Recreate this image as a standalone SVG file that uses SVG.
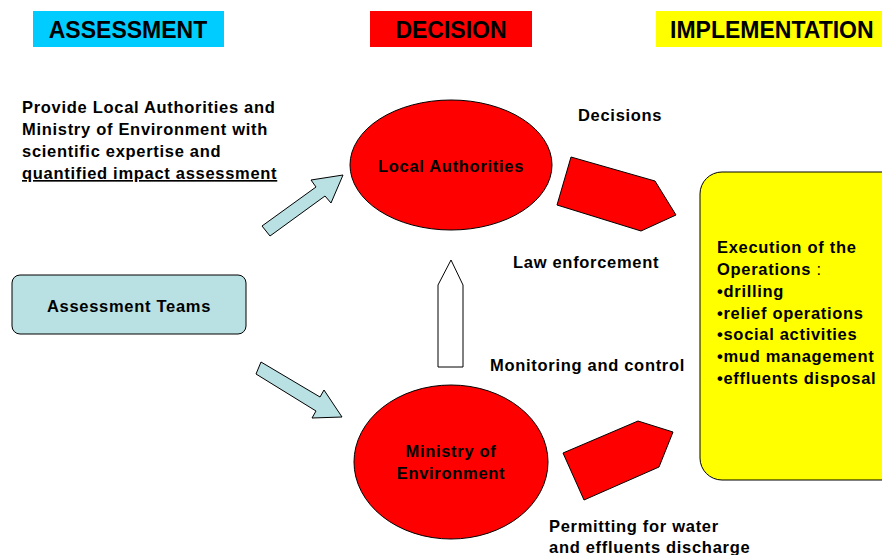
<svg xmlns="http://www.w3.org/2000/svg" width="882" height="555" viewBox="0 0 882 555">
<style>
text{font-family:"Liberation Sans",Arial,sans-serif;font-weight:bold;fill:#000}
.hd{font-size:23px}
.t{font-size:16.5px;letter-spacing:0.7px}
.red{fill:#FF0000;stroke:#000;stroke-width:1}
.blue{fill:#B9E0E3;stroke:#000;stroke-width:1}
</style>
<rect width="882" height="555" fill="#fff"/>
<g id="header-assessment"><rect x="33" y="11" width="191" height="36" fill="#00CCFF"/><text class="hd" x="128" y="38" text-anchor="middle">ASSESSMENT</text></g>
<g id="header-decision"><rect x="370" y="11" width="162" height="36" fill="#FF0000"/><text class="hd" x="451" y="38" text-anchor="middle">DECISION</text></g>
<g id="header-implementation"><rect x="656" y="11" width="226" height="36" fill="#FFFF00"/><text class="hd" x="670" y="38">IMPLEMENTATION</text></g>
<g id="provide-text">
<text class="t" x="22" y="113">Provide Local Authorities and</text>
<text class="t" x="22" y="135">Ministry of Environment with</text>
<text class="t" x="22" y="157">scientific expertise and</text>
<text class="t" x="22" y="179" text-decoration="underline">quantified impact assessment</text>
</g>
<g id="assessment-teams"><rect class="blue" x="12" y="275" width="234" height="59" rx="8" stroke="#555"/><text class="t" x="129" y="312" text-anchor="middle">Assessment Teams</text></g>
<g id="local-authorities"><ellipse class="red" cx="451" cy="165" rx="101" ry="65"/><text class="t" x="451" y="172" text-anchor="middle">Local Authorities</text></g>
<g id="ministry"><ellipse class="red" cx="451" cy="462" rx="97" ry="77"/><text class="t" x="451" y="457" text-anchor="middle">Ministry of</text><text class="t" x="451" y="479" text-anchor="middle">Environment</text></g>
<g id="execution"><rect x="700" y="172" width="210" height="308" rx="22" fill="#FFFF00" stroke="#000"/>
<text class="t" x="717" y="253">Execution of the</text>
<text class="t" x="717" y="275">Operations<tspan font-weight="normal"> :</tspan></text>
<text class="t" x="717" y="297">•drilling</text>
<text class="t" x="717" y="319">•relief operations</text>
<text class="t" x="717" y="340">•social activities</text>
<text class="t" x="717" y="362">•mud management</text>
<text class="t" x="717" y="384">•effluents disposal</text>
</g>
<g id="connectors">
<polygon class="blue" points="262,226 316,187 311,180 343,175 331,203 325,196 270,236"/>
<polygon class="blue" points="261,362 320,397 324,390 342,417 312,418 316,411 256,374"/>
<polygon fill="#fff" stroke="#000" points="438,367 438,285 451,260 463,285 463,367"/>
<polygon class="red" points="571,157 655,181 676,215 641,231 557,205"/>
<polygon class="red" points="563,453 638,421 673,432 659,467 584,500"/>
</g>
<g id="labels">
<text class="t" x="578" y="121">Decisions</text>
<text class="t" x="513" y="268">Law enforcement</text>
<text class="t" x="490" y="371">Monitoring and control</text>
<text class="t" x="549" y="532">Permitting for water</text>
<text class="t" x="549" y="553">and effluents discharge</text>
</g>
</svg>
